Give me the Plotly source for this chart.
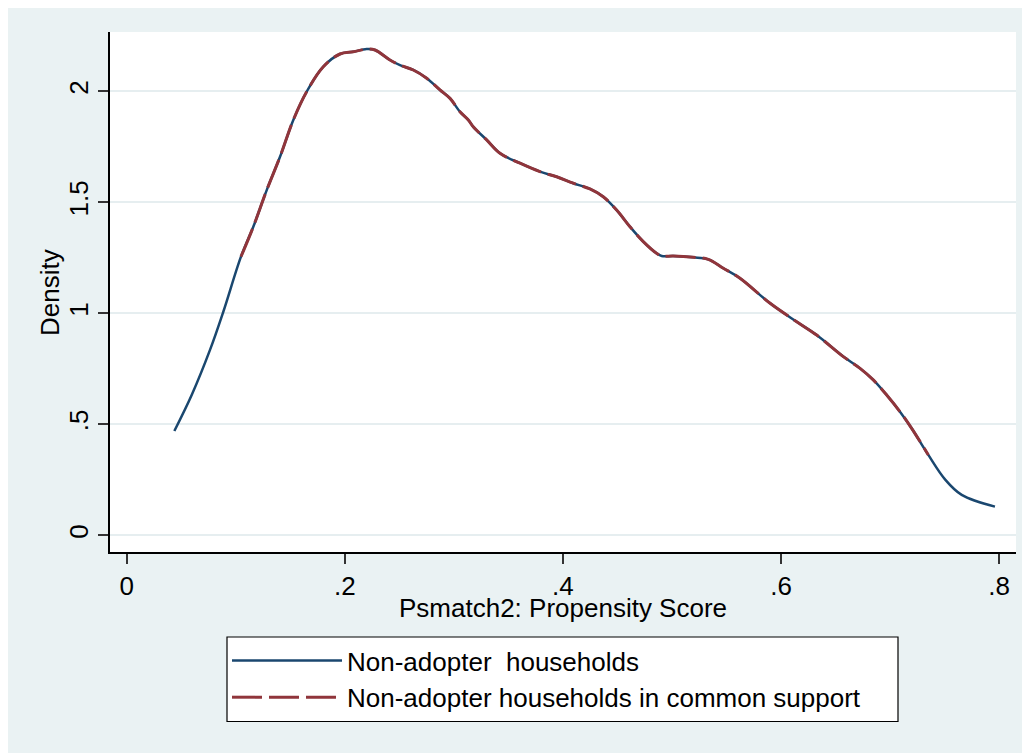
import plotly.graph_objects as go

# Non-adopter households: kernel density of propensity score
psc_all = [0.0437, 0.0596, 0.0764, 0.0886, 0.1048, 0.1161, 0.1284, 0.1406, 0.1528, 0.1650,
           0.1803, 0.1956, 0.2078, 0.2200, 0.2277, 0.2414, 0.2506, 0.2628, 0.2751, 0.2873,
           0.2965, 0.3056, 0.3133, 0.3178, 0.3301, 0.3423, 0.3607, 0.3790, 0.3943, 0.4095,
           0.4248, 0.4370, 0.4493, 0.4615, 0.4737, 0.4860, 0.4906, 0.5012, 0.5196, 0.5333,
           0.5471, 0.5624, 0.5900, 0.6144, 0.6327, 0.6571, 0.6725, 0.6846, 0.6969, 0.7091,
           0.7198, 0.7351, 0.7504, 0.7657, 0.7962]
dens_all = [0.470, 0.632, 0.835, 1.007, 1.255, 1.390, 1.555, 1.705, 1.871, 1.998,
            2.111, 2.168, 2.178, 2.190, 2.186, 2.141, 2.118, 2.096, 2.059, 2.006,
            1.968, 1.908, 1.871, 1.840, 1.781, 1.721, 1.676, 1.638, 1.615, 1.586,
            1.560, 1.525, 1.465, 1.390, 1.323, 1.270, 1.258, 1.258, 1.252, 1.243,
            1.203, 1.158, 1.045, 0.962, 0.902, 0.805, 0.752, 0.700, 0.632, 0.557,
            0.482, 0.362, 0.252, 0.182, 0.129]

# Non-adopter households in common support
psc_cs = [0.1048, 0.1161, 0.1284, 0.1406, 0.1528, 0.1650,
          0.1803, 0.1956, 0.2078, 0.2200, 0.2277, 0.2414, 0.2506, 0.2628, 0.2751, 0.2873,
          0.2965, 0.3056, 0.3133, 0.3178, 0.3301, 0.3423, 0.3607, 0.3790, 0.3943, 0.4095,
          0.4248, 0.4370, 0.4493, 0.4615, 0.4737, 0.4860, 0.4906, 0.5012, 0.5196, 0.5333,
          0.5471, 0.5624, 0.5900, 0.6144, 0.6327, 0.6571, 0.6725, 0.6846, 0.6969, 0.7091,
          0.7198, 0.7351]
dens_cs = [1.255, 1.390, 1.555, 1.705, 1.871, 1.998,
           2.111, 2.168, 2.178, 2.190, 2.186, 2.141, 2.118, 2.096, 2.059, 2.006,
           1.968, 1.908, 1.871, 1.840, 1.781, 1.721, 1.676, 1.638, 1.615, 1.586,
           1.560, 1.525, 1.465, 1.390, 1.323, 1.270, 1.258, 1.258, 1.252, 1.243,
           1.203, 1.158, 1.045, 0.962, 0.902, 0.805, 0.752, 0.700, 0.632, 0.557,
           0.482, 0.362]

x_tickvals = [0, 0.2, 0.4, 0.6, 0.8]
x_ticktext = ["0", ".2", ".4", ".6", ".8"]
y_tickvals = [0, 0.5, 1, 1.5, 2]
y_ticktext = ["0", ".5", "1", "1.5", "2"]

name_all = "Non-adopter  households"
name_cs = "Non-adopter households in common support"
x_title = "Psmatch2: Propensity Score"
y_title = "Density"

FONT = "Liberation Sans, Arial, Helvetica, sans-serif"
FS = 26
BG = "#EAF2F3"
GRID = "#E6EEF0"
NAVY = "#1A476F"
MAROON = "#90353B"

# page body has an 8px margin; layout below is in figure pixels (screen - 8)
OFF = 8
W, H = 1030 - OFF, 753 - OFF
L, R, T, B = 110 - OFF, 1016 - OFF, 32 - OFF, 552 - OFF
pw, ph = R - L, B - T


def px_x(p):
    return (p - OFF - L) / pw


def px_y(p):
    return (B - (p - OFF)) / ph


fig = go.Figure()
fig.add_trace(go.Scatter(x=psc_all, y=dens_all, mode="lines", name=name_all,
                         line=dict(color=NAVY, width=2.5), line_shape="spline"))
fig.add_trace(go.Scatter(x=psc_cs, y=dens_cs, mode="lines", name=name_cs,
                         line=dict(color=MAROON, width=3, dash="30px,7px"), line_shape="spline"))

fig.update_layout(
    width=W, height=H,
    margin=dict(l=L, r=W - R, t=T, b=H - B, pad=0),
    paper_bgcolor=BG,
    plot_bgcolor="white",
    font=dict(family=FONT, size=FS, color="black"),
    showlegend=True,
    legend=dict(x=px_x(227), y=px_y(637), xanchor="left", yanchor="top",
                bgcolor="rgba(0,0,0,0)", borderwidth=0,
                font=dict(family=FONT, size=FS, color="black"),
                itemwidth=110, tracegroupgap=0),
    shapes=[
        # legend frame
        dict(type="rect", xref="paper", yref="paper",
             x0=px_x(227), x1=px_x(898), y0=px_y(721.5), y1=px_y(637),
             fillcolor="white", line=dict(color="black", width=1.2), layer="above"),
    ],
    annotations=[
        dict(text=x_title, xref="paper", yref="paper", x=0.5, y=px_y(608),
             xanchor="center", yanchor="middle", showarrow=False,
             font=dict(family=FONT, size=FS, color="black")),
        dict(text=y_title, xref="paper", yref="paper", x=px_x(50), y=0.5,
             xanchor="center", yanchor="middle", showarrow=False, textangle=-90,
             font=dict(family=FONT, size=FS, color="black")),
    ],
)

# axis ranges from the reference tick positions (screen px)
x0_px, x_per = 126.7, 1090.5
y0_px, y_per = 535.3, 222.0
x_lo = (110 - x0_px) / x_per
x_hi = (1016 - x0_px) / x_per
y_lo = (y0_px - 552) / y_per
y_hi = (y0_px - 32) / y_per

fig.update_xaxes(range=[x_lo, x_hi], tickvals=x_tickvals, ticktext=x_ticktext,
                 showgrid=False, zeroline=False, showline=True, linecolor="black",
                 linewidth=1.5, ticks="outside", ticklen=10, tickwidth=1.5,
                 tickcolor="#333333", tickfont=dict(size=FS))
fig.update_yaxes(range=[y_lo, y_hi], tickvals=y_tickvals, ticktext=y_ticktext,
                 showgrid=True, gridcolor=GRID, gridwidth=2, zeroline=False,
                 showline=True, linecolor="black", linewidth=1.5, ticks="outside",
                 ticklen=10, tickwidth=1.5, tickcolor="#333333", tickangle=-90,
                 tickfont=dict(size=FS))

fig.write_html("out.html")
